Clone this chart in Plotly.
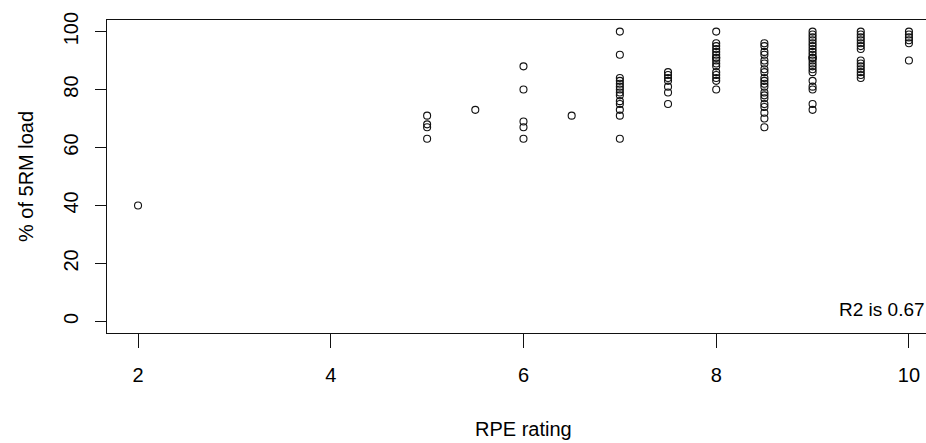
import plotly.graph_objects as go

# RPE rating (x) and % of 5RM load (y)
rpe_2 = [40]
rpe_5 = [71, 68, 67, 63]
rpe_5_5 = [73]
rpe_6 = [88, 80, 69, 67, 63]
rpe_6_5 = [71]
rpe_7 = [100, 92, 84, 83, 82, 81, 80, 79, 78, 76, 75, 73, 71, 63]
rpe_7_5 = [86, 85, 84, 83, 81, 79, 75]
rpe_8 = [100, 96, 95, 94, 93, 92, 91, 91, 90, 89, 88, 86, 85, 84, 83, 80]
rpe_8_5 = [96, 95, 93, 92, 90, 89, 87, 86, 84, 83, 82, 81, 79, 78, 77, 75, 74, 72, 70, 67]
rpe_9 = [100, 99, 98, 97, 96, 95, 94, 93, 92, 91, 91, 91, 90, 89, 88, 87, 86, 83, 81, 80, 75, 73]
rpe_9_5 = [100, 99, 98, 97, 96, 95, 94, 90, 89, 88, 87, 86, 85, 84]
rpe_10 = [100, 99, 98, 97, 96, 90]

groups = {2: rpe_2, 5: rpe_5, 5.5: rpe_5_5, 6: rpe_6, 6.5: rpe_6_5, 7: rpe_7,
          7.5: rpe_7_5, 8: rpe_8, 8.5: rpe_8_5, 9: rpe_9, 9.5: rpe_9_5, 10: rpe_10}

x_ticks = [2, 4, 6, 8, 10]
y_ticks = [0, 20, 40, 60, 80, 100]
r2_text = "R2 is 0.67"

xs, ys = [], []
for k, vals in groups.items():
    xs += [k] * len(vals)
    ys += vals

FONT = "Liberation Sans, Arial, sans-serif"
INK = "#000000"
LINE = "#111111"

fig = go.Figure()
fig.add_trace(go.Scatter(
    x=xs, y=ys, mode="markers",
    marker=dict(symbol="circle-open", size=7, color=LINE,
                line=dict(width=1.1, color=LINE)),
    showlegend=False, hoverinfo="skip"))

fig.update_layout(
    width=926, height=443,
    margin=dict(l=107, r=0, t=20, b=110, pad=0),
    paper_bgcolor="white", plot_bgcolor="white",
    font=dict(family=FONT, size=20, color=INK),
    xaxis=dict(range=[1.678, 10.177], tickvals=x_ticks, ticktext=[str(v) for v in x_ticks],
               automargin=False,
               showgrid=False, zeroline=False, showline=True, mirror=True,
               linecolor=LINE, linewidth=1.2, ticks="outside", ticklen=14,
               tickcolor=LINE, tickwidth=1.2, ticklabelstandoff=10,
               tickfont=dict(size=20)),
    yaxis=dict(range=[-4, 104], tickvals=y_ticks, ticktext=[str(v) for v in y_ticks],
               automargin=False,
               showgrid=False, zeroline=False, showline=True, mirror=False,
               linecolor=LINE, linewidth=1.2, ticks="outside", ticklen=11,
               tickcolor=LINE, tickwidth=1.2, tickangle=-90, ticklabelstandoff=9,
               tickfont=dict(size=20),
               title=dict(text="% of 5RM load", standoff=20, font=dict(size=20))),
)

fig.add_annotation(x=6.0, xref="x", y=0, yref="paper", yshift=-96,
                   text="RPE rating", showarrow=False, xanchor="center", yanchor="middle",
                   font=dict(size=20, family=FONT))
fig.add_annotation(x=9.25, xref="x", y=4.1, yref="y",
                   text=r2_text, showarrow=False, xanchor="left", yanchor="middle",
                   font=dict(size=19, family=FONT))

# remove the page's default body margin so the figure fills the window exactly
fig.write_html("out.html",
               config={"displayModeBar": False},
               post_script="document.body.style.margin='0';document.body.style.overflow='hidden';")
